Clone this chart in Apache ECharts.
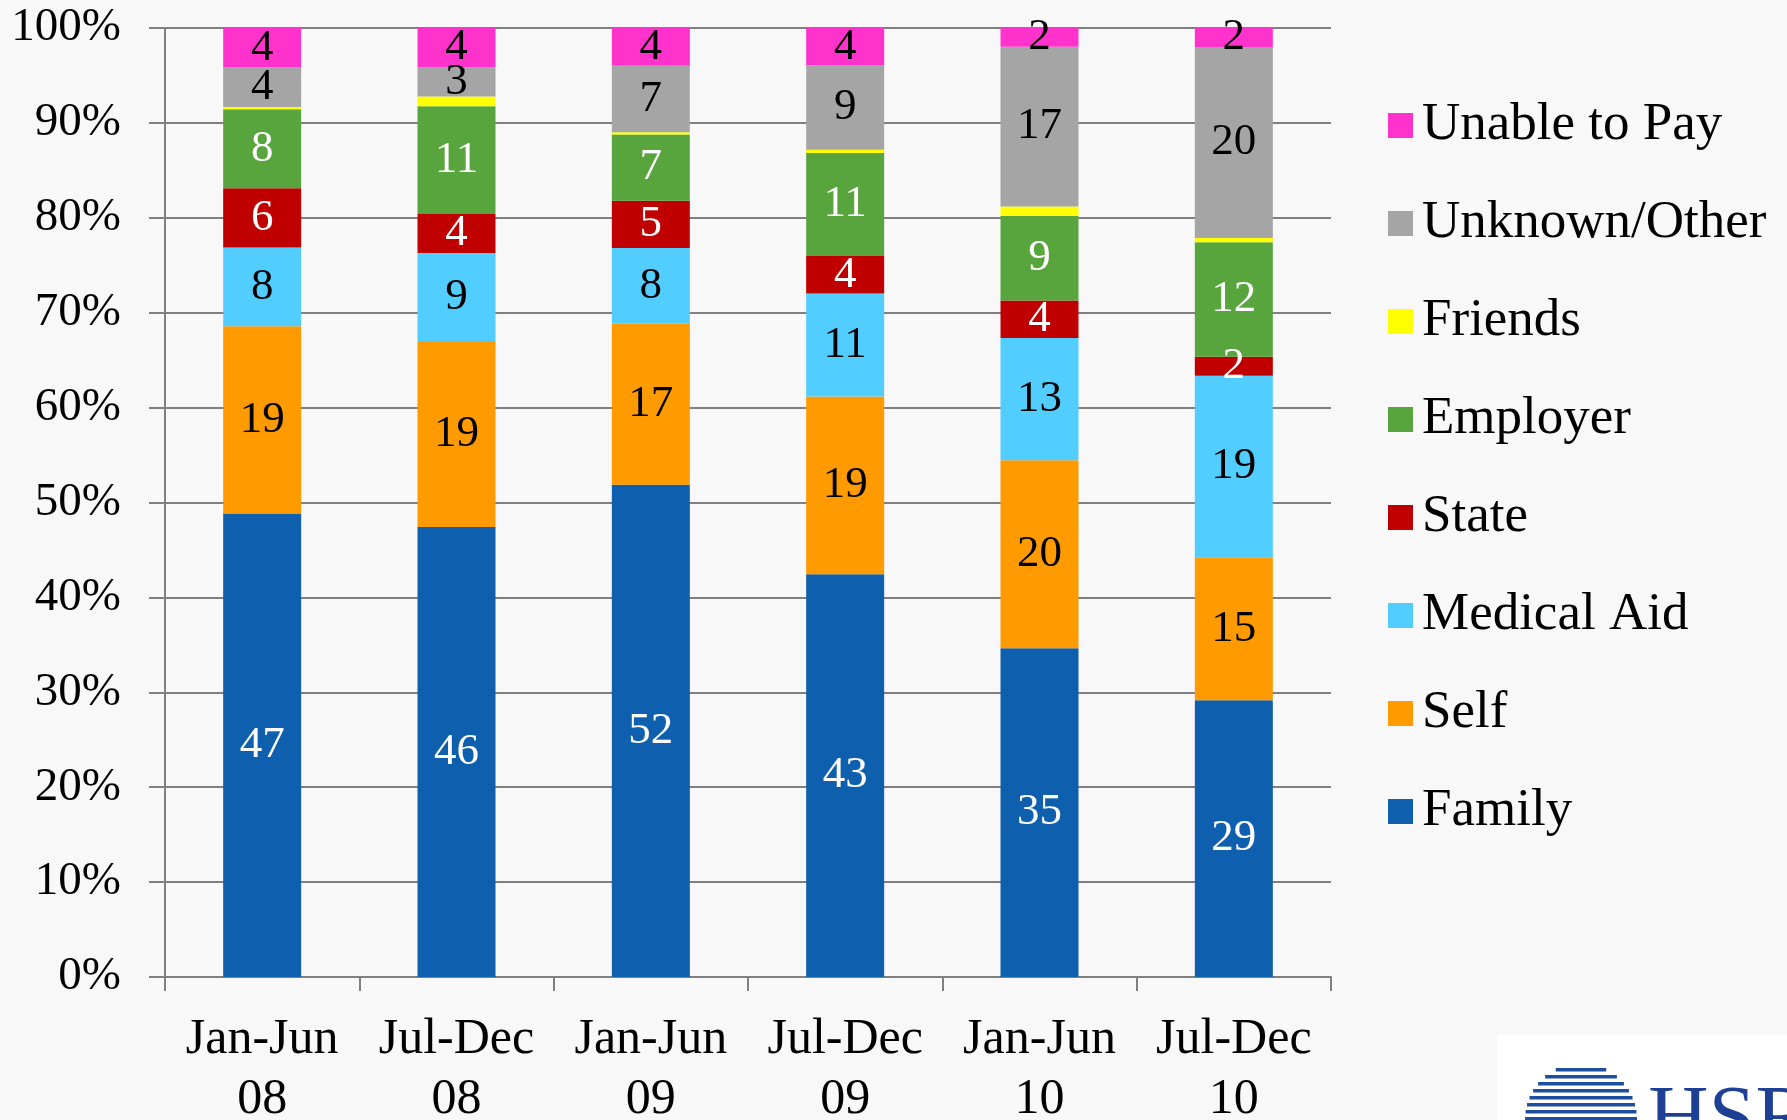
<!DOCTYPE html>
<html>
<head>
<meta charset="utf-8">
<script src="https://cdn.jsdelivr.net/npm/echarts@6/dist/echarts.min.js"></script>
<style>
  html, body { margin: 0; padding: 0; background: #f8f8f8; }
  #chart { width: 1787px; height: 1120px; }
</style>
</head>
<body>
<div id="chart"></div>
<script>
// periods on the x axis
const categories = ['Jan-Jun\n08', 'Jul-Dec\n08', 'Jan-Jun\n09', 'Jul-Dec\n09', 'Jan-Jun\n10', 'Jul-Dec\n10']
const family = [47, 46, 52, 43, 35, 29]
const self = [19, 19, 17, 19, 20, 15]
const medicalAid = [8, 9, 8, 11, 13, 19]
const state = [6, 4, 5, 4, 4, 2]
const employer = [8, 11, 7, 11, 9, 12]
const friends = [0.25, 1, 0.25, 0.35, 1, 0.45]
const unknownOther = [4, 3, 7, 9, 17, 20]
const unableToPay = [4, 4, 4, 4, 2, 2]
const yTicks = [0, 10, 20, 30, 40, 50, 60, 70, 80, 90, 100]

const font = '"Liberation Serif", "DejaVu Serif", serif'

const groups = [
  { name: 'Family', data: family, color: '#0e60ae', label: '#ffffff' },
  { name: 'Self', data: self, color: '#ff9a00', label: '#000000' },
  { name: 'Medical Aid', data: medicalAid, color: '#52cdff', label: '#000000' },
  { name: 'State', data: state, color: '#c00000', label: '#ffffff' },
  { name: 'Employer', data: employer, color: '#57a53c', label: '#ffffff' },
  { name: 'Friends', data: friends, color: '#ffff00', label: null },
  { name: 'Unknown/Other', data: unknownOther, color: '#a5a5a5', label: '#000000' },
  { name: 'Unable to Pay', data: unableToPay, color: '#ff33cc', label: '#000000' }
]

// 100% stacked: share of each column total
const totals = categories.map((c, i) => groups.reduce((s, g) => s + g.data[i], 0))

const series = groups.map(g => ({
  name: g.name,
  type: 'bar',
  stack: 'all',
  barWidth: 78,
  itemStyle: { color: g.color },
  label: {
    show: g.label !== null,
    position: 'inside',
    color: g.label || '#000',
    fontFamily: font,
    fontSize: 45,
    formatter: p => String(g.data[p.dataIndex])
  },
  data: g.data.map((v, i) => v / totals[i] * 100)
}))

// HSRC logo stripes in the corner
const logo = []
const cx = 1581, cy = 1118, r = 56
for (let k = 0; k < 9; k++) {
  const y = cy - r + 6 + k * 7
  const dy = y - cy
  const half = Math.sqrt(Math.max(r * r - dy * dy, 0))
  logo.push({
    type: 'rect',
    shape: { x: cx - half, y: y, width: half * 2, height: 3.5 },
    style: { fill: '#1d4f9e' }
  })
}

const chart = echarts.init(document.getElementById('chart'))
chart.setOption({
  backgroundColor: '#f8f8f8',
  animation: false,
  grid: { left: 165, right: 456, top: 28, bottom: 143, outerBoundsMode: 'none' },
  legend: {
    orient: 'vertical',
    left: 1383,
    top: 94,
    itemWidth: 25,
    itemHeight: 25,
    itemGap: 45,
    icon: 'rect',
    data: groups.map(g => g.name).reverse(),
    textStyle: { fontFamily: font, fontSize: 53, color: '#000', lineHeight: 52, padding: [0, 0, 0, 4] }
  },
  xAxis: {
    type: 'category',
    data: categories,
    axisLine: { lineStyle: { color: '#808080', width: 2 } },
    axisTick: { show: true, length: 14, interval: 0, lineStyle: { color: '#808080', width: 2 } },
    axisLabel: {
      interval: 0,
      margin: 33,
      fontFamily: font,
      fontSize: 50,
      lineHeight: 60,
      color: '#000'
    }
  },
  yAxis: {
    type: 'value',
    min: yTicks[0],
    max: yTicks[yTicks.length - 1],
    interval: 10,
    axisLine: { show: true, lineStyle: { color: '#808080', width: 2 } },
    axisTick: { show: true, length: 16, lineStyle: { color: '#808080', width: 2 } },
    splitLine: { lineStyle: { color: '#808080', width: 2 } },
    axisLabel: {
      margin: 44,
      fontFamily: font,
      fontSize: 47,
      color: '#000',
      formatter: '{value}%'
    }
  },
  series: series,
  graphic: [
    { type: 'rect', shape: { x: 1497, y: 1035, width: 290, height: 85 }, style: { fill: '#ffffff' } },
    { type: 'group', children: logo },
    { type: 'text', x: 1648, y: 1080, style: { text: 'HSRC', fontFamily: font, fontSize: 84, fill: '#1d3f94' } }
  ]
})
</script>
</body>
</html>
